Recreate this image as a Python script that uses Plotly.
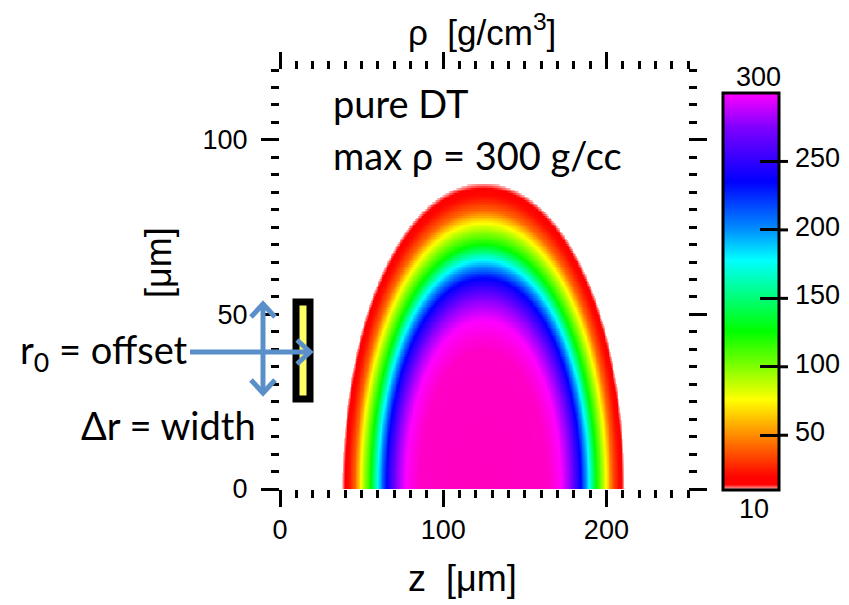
import numpy as np
import plotly.graph_objects as go

# ---------------- data ----------------
# density profile of the DT shell vs. normalised radius (0 = centre, 1 = outer edge)
r_knots = [0.00, 0.45, 0.50, 0.55, 0.62, 0.69, 0.75, 0.80, 0.87, 0.91, 0.95, 0.98, 1.00]
rho_knots = [320, 318, 310, 300, 276, 235, 178, 125, 76, 42, 24, 15, 10]
# outer boundary of the dense region [um]
z_center = 124.7
half_width = 86.3
height = 87.5
shape_power = 2.05

# colour scale stops: (density g/cm3, colour)
cb_stops = [(10, "#FFC8C8"), (14, "#FF0000"), (20, "#FF0500"), (50, "#FF8C00"),
            (76, "#FFFF00"), (100, "#80FF00"), (126, "#00FF00"), (178, "#00FFFF"),
            (200, "#0090FF"), (235, "#0000FF"), (275, "#8000FF"), (300, "#FF00FF")]
core_stops = [(320, "#FF00BE")]
cb_min, cb_max = 10, 300
cb_ticks = [50, 100, 150, 200, 250]
cb_ticktext = ["50", "100", "150", "200", "250"]

x_ticks_major = [0, 100, 200]
y_ticks_major = [0, 50, 100]

# ---------------- field ----------------
z = np.arange(0, 250.01, 0.5)
y = np.arange(0, 120.01, 0.5)
Z, Y = np.meshgrid(z, y)
rn = ((np.abs(Z - z_center) / half_width) ** shape_power + (Y / height) ** shape_power) ** (1 / shape_power)
rho = np.interp(rn, r_knots, rho_knots)
rho[rn > 1.0] = np.nan

hm_max = core_stops[-1][0]
hm_scale = [[(v - cb_min) / (hm_max - cb_min), c] for v, c in cb_stops + core_stops]
cb_scale = [[(v - cb_min) / (cb_max - cb_min), c] for v, c in cb_stops]

fig = go.Figure()
fig.add_trace(go.Heatmap(x=z, y=y, z=rho, colorscale=hm_scale, zmin=cb_min, zmax=hm_max,
                         showscale=False, hoverinfo="skip"))

# plot-area geometry in pixels
W, H = 849, 605
L, R, T, B = 280, 688, 70, 489

def px(xp):
    return (xp - L) / (R - L)

def py(yp):
    return (B - yp) / (B - T)

# colour bar geometry (pixels)
CB_L, CB_R, CB_T, CB_B = 723, 782, 93, 490

def cb_y(v):
    return CB_B - (v - cb_min) / (cb_max - cb_min) * (CB_B - CB_T)

# dummy trace only to carry the colour bar (10 .. 300)
fig.add_trace(go.Heatmap(x=[-60, -59], y=[-60], z=[[cb_min, cb_max]], colorscale=cb_scale,
                         zmin=cb_min, zmax=cb_max, hoverinfo="skip",
                         colorbar=dict(x=px(CB_L), xanchor="left", xpad=0, ypad=0,
                                       y=py(CB_T), yanchor="top", len=CB_B - CB_T, lenmode="pixels",
                                       thickness=CB_R - CB_L - 3, outlinewidth=3, outlinecolor="black",
                                       tickvals=cb_ticks, ticks="inside", ticklen=20,
                                       tickwidth=3, tickcolor="black", showticklabels=False)))

tickfont = dict(family="Liberation Sans", size=27, color="black")
fig.update_xaxes(range=[0, 250], showgrid=False, zeroline=False, showline=False,
                 tickmode="array", tickvals=x_ticks_major, ticks="outside", ticklen=17,
                 tickwidth=3, tickcolor="black", mirror="ticks", tickfont=tickfont,
                 minor=dict(dtick=10, tick0=0, ticks="outside", ticklen=8, tickwidth=3,
                            tickcolor="black", showgrid=False))
fig.update_yaxes(range=[0, 120], showgrid=False, zeroline=False, showline=False,
                 tickmode="array", tickvals=y_ticks_major, ticks="outside", ticklen=18,
                 tickwidth=3, tickcolor="black", mirror="ticks", tickfont=tickfont,
                 ticklabelstandoff=8,
                 minor=dict(dtick=5, tick0=0, ticks="outside", ticklen=8, tickwidth=3,
                            tickcolor="black", showgrid=False))

helv = "Liberation Sans"
cal = "Lato"
ann = []
ann.append(dict(text="\u03c1  [g/cm<sup>3</sup>]", x=px(482), y=py(30), font=dict(family=helv, size=35)))
ann.append(dict(text="z  [\u03bcm]", x=px(462), y=py(578), font=dict(family=helv, size=36)))
ann.append(dict(text="[\u03bcm]", x=px(158), y=py(263), textangle=-90, font=dict(family=helv, size=36)))
ann.append(dict(text="pure DT", x=px(331), y=py(103), xanchor="left", font=dict(family=cal, size=38)))
ann.append(dict(text="max \u03c1 = 300 g/cc", x=px(331), y=py(155), xanchor="left", font=dict(family=cal, size=38)))
ann.append(dict(text="r<sub>0</sub> = offset", x=px(18), y=py(352), xanchor="left", font=dict(family=cal, size=38)))
ann.append(dict(text="\u0394r = width", x=px(258), y=py(425), xanchor="right", font=dict(family=cal, size=38)))
ann.append(dict(text="300", x=px(758), y=py(77), font=dict(family=helv, size=27)))
ann.append(dict(text="10", x=px(754), y=py(509), font=dict(family=helv, size=27)))
for v, t in zip(cb_ticks, cb_ticktext):
    ann.append(dict(text=t, x=px(CB_R + 11), y=py(cb_y(v) - 3), xanchor="left",
                    font=dict(family=helv, size=27)))
for a in ann:
    a.update(xref="paper", yref="paper", showarrow=False)
    a["font"]["color"] = "black"
    a.setdefault("xanchor", "center")
    a.setdefault("yanchor", "middle")

shapes = []
# colour-bar tick marks crossing the right border
for v in cb_ticks:
    yy = cb_y(v)
    shapes.append(dict(type="line", x0=px(CB_R - 4), x1=px(CB_R + 6), y0=py(yy), y1=py(yy),
                       line=dict(color="black", width=3)))

blue = "#5B8FC9"
# yellow marker rectangle
shapes.append(dict(type="rect", x0=px(296), x1=px(310), y0=py(302), y1=py(399),
                   line=dict(color="black", width=7), fillcolor="#FFFF66"))
# horizontal arrow
shapes.append(dict(type="path", path=f"M {px(190)} {py(352)} L {px(309)} {py(352)}", line=dict(color=blue, width=5)))
shapes.append(dict(type="path", path=f"M {px(297)} {py(340)} L {px(310)} {py(352)} L {px(297)} {py(364)}", line=dict(color=blue, width=5)))
# vertical double arrow
shapes.append(dict(type="path", path=f"M {px(263)} {py(305)} L {px(263)} {py(392)}", line=dict(color=blue, width=5)))
shapes.append(dict(type="path", path=f"M {px(251)} {py(317)} L {px(263)} {py(304)} L {px(275)} {py(317)}", line=dict(color=blue, width=5)))
shapes.append(dict(type="path", path=f"M {px(251)} {py(380)} L {px(263)} {py(393)} L {px(275)} {py(380)}", line=dict(color=blue, width=5)))
for s in shapes:
    s.update(xref="paper", yref="paper", layer="above")

fig.update_layout(width=W, height=H,
                  margin=dict(l=L, r=W - R, t=T, b=H - B, autoexpand=False),
                  plot_bgcolor="white", paper_bgcolor="white", showlegend=False,
                  annotations=ann, shapes=shapes)
fig.write_html("out.html")
